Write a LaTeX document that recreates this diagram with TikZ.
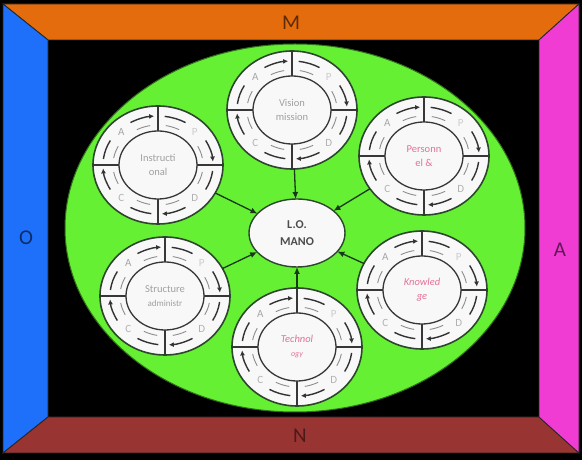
\documentclass[tikz,border=0pt]{standalone}
\usepackage{fontspec}
\setmainfont{Carlito}
\usetikzlibrary{shapes.geometric,arrows.meta}
\definecolor{bandM}{RGB}{228,108,12}
\definecolor{bandO}{RGB}{30,112,250}
\definecolor{bandA}{RGB}{240,60,210}
\definecolor{bandN}{RGB}{152,52,50}
\definecolor{field}{RGB}{102,240,51}
\definecolor{fieldedge}{RGB}{50,110,30}
\definecolor{cycedge}{RGB}{45,70,45}
\definecolor{cycfill}{RGB}{248,248,248}
\definecolor{ink}{RGB}{55,55,55}
\definecolor{greytext}{RGB}{160,160,160}
\definecolor{pinktext}{RGB}{225,115,150}
\definecolor{conncol}{RGB}{25,55,25}
\tikzset{
  band/.style={draw=black!85, line width=0.8pt},
  framelab/.style={font=\fontsize{21}{21}\selectfont, inner sep=0pt},
  cycouter/.style={ellipse, draw=cycedge, fill=cycfill, line width=1.6pt,
    minimum width=130pt, minimum height=118pt, inner sep=0pt, outer sep=0pt},
  cycin/.style={draw=ink, line width=1.3pt},
  cycline/.style={draw=ink, line width=1.3pt},
  arcdark/.style={draw=black!80, line width=1.4pt},
  arclight/.style={draw=black!45, line width=0.9pt},
  letter/.style={font=\fontsize{11}{11}\selectfont, inner sep=0pt},
  cyctext/.style={align=center, inner sep=0pt, font=\fontsize{10.5}{14}\selectfont},
  lonode/.style={ellipse, draw=cycedge, fill=cycfill, line width=1.4pt,
    minimum width=96pt, minimum height=68pt, inner sep=0pt, outer sep=0pt,
    align=center, text=black!70, font=\fontsize{12}{17}\selectfont\bfseries},
  conn/.style={draw=conncol, line width=1.3pt, -{Latex[length=7pt,width=6pt]}}
}
\newcommand\pdcaCycle[5]{%
  \node[cycouter] (#1) at (#2,#3) {};
  \begin{scope}[shift={(#2,#3)}]
    \draw[cycin] (0,0) ellipse [x radius=39, y radius=34];
    \draw[cycline] (39,0) -- (65,0) (-39,0) -- (-65,0) (0,34) -- (0,59) (0,-34) -- (0,-59);
    \foreach \s/\l/\c in {180/A/black!35, 90/P/black!20, 0/D/black!30, -90/C/black!30} {
      \draw[arcdark] (\s-7:55 and 49) arc[start angle=\s-7, end angle=\s-30, x radius=55, y radius=49];
      \draw[arcdark,-{Latex[length=5pt,width=5pt]}] (\s-60:55 and 49) arc[start angle=\s-60, end angle=\s-86, x radius=55, y radius=49];
      \draw[arclight] (\s-10:45 and 40) arc[start angle=\s-10, end angle=\s-28, x radius=45, y radius=40];
      \draw[arclight] (\s-62:45 and 40) arc[start angle=\s-62, end angle=\s-80, x radius=45, y radius=40];
      \node[letter, text=\c] (#1-\l) at (\s-45:52 and 46) {\l};
    }
    \node[cyctext] (#1-text) at (0,0) {#4};
  \end{scope}
}
\begin{document}
\begin{tikzpicture}[x=1pt,y=1pt]
\fill[black] (0,0) rectangle (582,460);
\useasboundingbox (0,0) rectangle (582,460);
% frame bands
\filldraw[band, fill=bandM] (3,456) -- (579,456) -- (539,420) -- (48,420) -- cycle;
\filldraw[band, fill=bandO] (3,456) -- (48,420) -- (48,43) -- (3,7) -- cycle;
\filldraw[band, fill=bandN] (3,7) -- (579,7) -- (539,43) -- (48,43) -- cycle;
\filldraw[band, fill=bandA] (579,456) -- (579,7) -- (539,43) -- (539,420) -- cycle;
\node[framelab, text=bandM!40!black] (labM) at (291,437) {M};
\node[framelab, text=bandN!50!black] (labN) at (300,24) {N};
\node[framelab, text=bandO!40!black] (labO) at (26,222) {O};
\node[framelab, text=bandA!40!black] (labA) at (560,210) {A};
% green field
\node[ellipse, draw=fieldedge, fill=field, line width=1pt, minimum width=460pt,
  minimum height=368pt, inner sep=0pt] (field) at (295,232) {};
% cycles
\pdcaCycle{vision}{292}{350}{\textcolor{greytext}{Vision}\\\textcolor{greytext}{mission}}{}
\pdcaCycle{personnel}{424}{304}{\textcolor{pinktext}{Personn}\\\textcolor{pinktext}{el \&}}{}
\pdcaCycle{instr}{158}{295}{\textcolor{greytext}{Instructi}\\\textcolor{greytext}{onal}}{}
\pdcaCycle{knowledge}{422}{170}{\textcolor{pinktext}{\itshape Knowled}\\\textcolor{pinktext}{\itshape ge}}{}
\pdcaCycle{structure}{165}{164}{\textcolor{greytext}{Structure}\\\textcolor{greytext}{\small administr}}{}
\pdcaCycle{tech}{297}{113}{\textcolor{pinktext}{\itshape Technol}\\\textcolor{pinktext}{\itshape\footnotesize ogy}}{}
% centre
\node[lonode] (lo) at (297,227) {L.O.\\MANO};
% connectors
\draw[conn] (vision) -- (lo);
\draw[conn] (tech) -- (lo);
\draw[conn] (instr) -- (lo);
\draw[conn] (structure) -- (lo);
\draw[conn] (personnel) -- (lo);
\draw[conn] (knowledge) -- (lo);
\end{tikzpicture}
\end{document}
